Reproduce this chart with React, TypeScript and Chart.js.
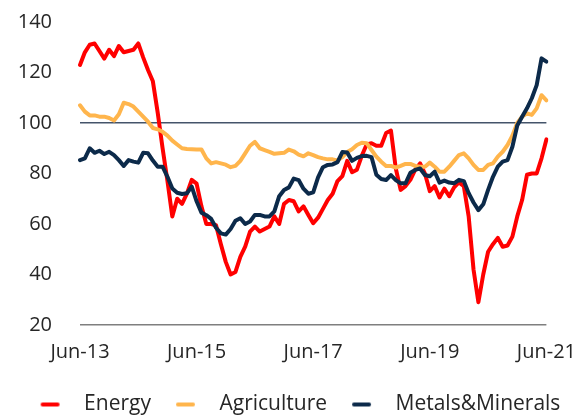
import React, { useEffect, useRef } from 'react';
import { Chart, registerables } from 'chart.js';

Chart.register(...registerables);

const MONTH_NAMES = ['Jan', 'Feb', 'Mar', 'Apr', 'May', 'Jun', 'Jul', 'Aug', 'Sep', 'Oct', 'Nov', 'Dec'];
const START_YEAR = 2013;
const START_MONTH = 5; // June
const N_MONTHS = 97;

const CATEGORIES: string[] = Array.from({ length: N_MONTHS }, (_, i) => {
  const m = (START_MONTH + i) % 12;
  const y = START_YEAR + Math.floor((START_MONTH + i) / 12);
  return `${MONTH_NAMES[m]}-${String(y % 100).padStart(2, '0')}`;
});

const TICK_LABELS = ['Jun-13', 'Jun-15', 'Jun-17', 'Jun-19', 'Jun-21'];
const Y_TICKS = [20, 40, 60, 80, 100, 120, 140];

const ENERGY = [
  123, 128, 131, 131.5, 128.5, 125.5, 129, 126.5, 130.5, 128,
  128.5, 129, 131.5, 126, 121, 116.5, 104, 90, 77, 63,
  70, 68, 72, 77.5, 76, 67, 60, 60, 59.5, 52,
  45, 40, 41, 47, 51, 57, 59, 57, 58, 59,
  63, 60, 68, 69.5, 69, 65, 67, 63.6, 60.3, 62.5,
  66, 69.5, 72, 77, 79, 85, 80.5, 81.5, 87, 91.5,
  92, 91, 91, 96, 97, 82, 73.5, 75, 77.5, 81.5,
  84, 80, 73, 75, 70.5, 74, 71, 74.5, 76.5, 75,
  63, 42, 29, 40, 49, 52, 54.5, 51, 51.5, 55,
  63, 69.5, 79.5, 80, 80, 86, 93.5,
];

const AGRICULTURE = [
  107, 104.5, 103, 103, 102.5, 102.5, 102, 101, 103.5, 108,
  107.5, 106.5, 104.5, 102.5, 100.5, 98, 97.5, 96.5, 95, 93,
  91.5, 90, 89.7, 89.6, 89.5, 89.5, 86, 84, 84.5, 84,
  83.5, 82.5, 83, 85, 88, 91, 92.5, 90, 89.3, 88.6,
  87.8, 88, 88.2, 89.5, 88.8, 87.5, 86.8, 88, 87.3, 86.5,
  86, 85.6, 85.6, 85.2, 86.5, 88.5, 89.6, 91.3, 92.2, 92,
  89.3, 86.7, 84.7, 83, 83, 82.3, 83, 83.8, 83.8, 83,
  82.7, 82.7, 84.3, 82.7, 80.7, 80.7, 82.7, 85, 87.3, 88,
  86, 83.4, 81.4, 81.4, 83.4, 84, 86.7, 88.6, 91.3, 95,
  100, 102.5, 103.8, 103.2, 105.8, 111, 109,
];

const METALS = [
  85.3, 86, 90, 88.2, 89, 87.7, 88.6, 87.3, 85.3, 83,
  85.3, 84.7, 84.3, 88.2, 88, 85.1, 82.7, 82.7, 78.7, 74.1,
  72.4, 71.9, 72.2, 74.8, 69, 64.5, 63.5, 62, 58.5, 56.3,
  55.8, 58, 61.3, 62.3, 60, 61, 63.6, 63.6, 63, 63,
  65, 71, 73.5, 74.5, 78, 77.4, 74, 72, 72.5, 78.5,
  82.5, 83.4, 83.6, 84.5, 88.5, 88.3, 85, 86.2, 86.9, 87,
  86.5, 79.5, 77.8, 77.4, 79.4, 77.4, 76.1, 76.1, 80.3, 81.4,
  82, 79.4, 78.9, 80.7, 76.4, 77.2, 76.4, 76.1, 77.5, 77,
  72.2, 68.5, 65.5, 67.8, 73.5, 78.7, 82.7, 84.7, 85.3, 90.6,
  99, 102.5, 105.8, 109.8, 115, 125.6, 124.3,
];

const SERIES_NAMES = ['Energy', 'Agriculture', 'Metals&Minerals'];
const SERIES_COLORS = ['#FF0000', '#FFB54C', '#0C2A4A'];

function makeMarker(color: string): HTMLCanvasElement {
  const c = document.createElement('canvas');
  c.width = 48;
  c.height = 8;
  const g = c.getContext('2d')!;
  g.strokeStyle = color;
  g.lineWidth = 4;
  g.lineCap = 'round';
  g.beginPath();
  g.moveTo(17, 4);
  g.lineTo(32, 4);
  g.stroke();
  return c;
}

export default function App() {
  const ref = useRef<HTMLCanvasElement | null>(null);

  useEffect(() => {
    if (!ref.current) return;
    Chart.defaults.font.family = "'Open Sans', sans-serif";
    const markers = SERIES_COLORS.map(makeMarker);
    const seriesData = [ENERGY, AGRICULTURE, METALS];
    const chart = new Chart(ref.current, {
      type: 'line',
      data: {
        labels: CATEGORIES,
        datasets: SERIES_NAMES.map((name, i) => ({
          label: name,
          data: seriesData[i],
          borderColor: SERIES_COLORS[i],
          backgroundColor: SERIES_COLORS[i],
          borderWidth: 4,
          pointRadius: 0,
          pointHoverRadius: 0,
          tension: 0,
          borderJoinStyle: 'round',
          borderCapStyle: 'round',
          fill: false,
          order: 2 - i,
        })),
      },
      options: {
        responsive: false,
        animation: false,
        layout: { padding: { top: 22, right: -10, bottom: -8, left: 0 } },
        scales: {
          x: {
            type: 'category',
            border: { display: false },
            grid: { display: false, drawTicks: true, tickLength: 15, tickColor: 'rgba(0,0,0,0)' },
            ticks: {
              autoSkip: false,
              maxRotation: 0,
              minRotation: 0,
              padding: 0,
              color: '#262626',
              font: { size: 20 },
              callback: (_v: any, index: number) => {
                const lab = CATEGORIES[index];
                return TICK_LABELS.includes(lab) ? lab : '';
              },
            },
            afterFit: (scale: any) => {
              scale.height = 59;
            },
          },
          y: {
            min: Y_TICKS[0],
            max: Y_TICKS[Y_TICKS.length - 1],
            border: { display: false },
            grid: {
              drawTicks: true,
              tickLength: 28,
              tickColor: 'rgba(0,0,0,0)',
              lineWidth: 1.5,
              color: (ctx: any) => {
                const v = ctx.tick ? ctx.tick.value : null;
                if (v === 100) return '#44546A';
                if (v === 20) return '#7F7F7F';
                return 'rgba(0,0,0,0)';
              },
            },
            ticks: {
              stepSize: 20,
              padding: 0,
              color: '#262626',
              font: { size: 20 },
            },
            afterFit: (scale: any) => {
              scale.width = 80;
            },
          },
        },
        plugins: {
          tooltip: { enabled: false },
          legend: {
            position: 'bottom',
            labels: {
              usePointStyle: true,
              pointStyleWidth: 48,
              boxHeight: 21,
              padding: 10,
              color: '#262626',
              font: { size: 21 },
              sort: (a: any, b: any) => a.datasetIndex - b.datasetIndex,
              generateLabels: (ch: any) => {
                const items = (Chart.defaults.plugins.legend.labels.generateLabels as any)(ch);
                return items.map((it: any) => ({ ...it, pointStyle: markers[it.datasetIndex], lineWidth: 0 }));
              },
            },
          },
        },
      },
    });
    return () => chart.destroy();
  }, []);

  return (
    <div style={{ position: 'absolute', left: 0, top: 0, width: 576, height: 417 }}>
      <canvas ref={ref} width={576} height={417} style={{ display: 'block' }} />
    </div>
  );
}
